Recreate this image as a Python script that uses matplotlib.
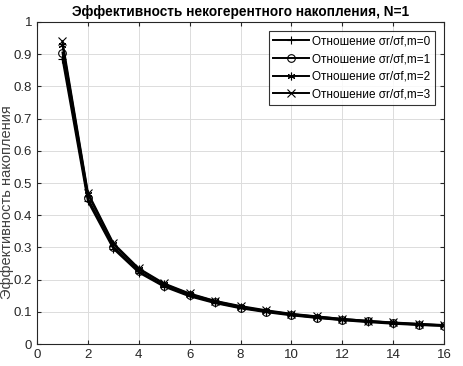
import matplotlib
matplotlib.use('Agg')
import matplotlib.pyplot as plt

plt.rcParams['font.family'] = ['Liberation Sans', 'DejaVu Sans']

# x = число импульсов, значения эффективности для m=0..3
x = list(range(1, 17))
m0 = [0.885, 0.443, 0.296, 0.222, 0.178, 0.148, 0.127, 0.111, 0.099, 0.089, 0.081, 0.074, 0.068, 0.063, 0.059, 0.056]
m1 = [0.905, 0.452, 0.302, 0.226, 0.181, 0.151, 0.129, 0.113, 0.101, 0.091, 0.082, 0.075, 0.070, 0.065, 0.060, 0.057]
m2 = [0.930, 0.465, 0.310, 0.232, 0.186, 0.155, 0.133, 0.116, 0.103, 0.093, 0.085, 0.078, 0.072, 0.066, 0.062, 0.058]
m3 = [0.940, 0.470, 0.313, 0.235, 0.188, 0.157, 0.134, 0.118, 0.105, 0.094, 0.086, 0.078, 0.072, 0.067, 0.063, 0.059]
labels = ['Отношение σr/σf,m=0', 'Отношение σr/σf,m=1',
          'Отношение σr/σf,m=2', 'Отношение σr/σf,m=3']
# MATLAB-like markers: plus, circle, asterisk, cross
markers = ['+', 'o', (6, 2, 0), 'x']

fig = plt.figure(figsize=(4.63, 3.66), dpi=100)
ax = fig.add_axes([0.080, 0.060, 0.879, 0.880])

for y, lab, mk in zip([m0, m1, m2, m3], labels, markers):
    ax.plot(x, y, color='black', linewidth=1.4, marker=mk, markersize=5.5,
            markerfacecolor='none', markeredgewidth=0.8, label=lab)

ax.set_xlim(0, 16)
ax.set_ylim(0, 1)
ax.set_xticks(range(0, 17, 2))
ax.set_yticks([i / 10 for i in range(11)])
ax.set_yticklabels(['0', '0.1', '0.2', '0.3', '0.4', '0.5', '0.6', '0.7', '0.8', '0.9', '1'])
ax.grid(True, color='#dcdcdc', linewidth=0.7)
ax.tick_params(direction='in', top=True, right=True, labelsize=9.5, colors='#262626', length=3)
for s in ax.spines.values():
    s.set_color('#262626')
    s.set_linewidth(0.8)

ax.set_title('Эффективность некогерентного накопления, N=1', fontsize=9.8,
             fontweight='bold', pad=4)
ax.set_ylabel('Эффективность накопления', fontsize=10.5, color='#404040',
              va='center')
ax.yaxis.set_label_coords(-0.074, 0.44)

leg = ax.legend(loc='upper right', fontsize=8.5, frameon=True, fancybox=False,
                edgecolor='black', borderpad=0.35, labelspacing=0.48,
                handlelength=3.0, handletextpad=0.3, borderaxespad=0.8)
leg.get_frame().set_linewidth(0.8)

fig.savefig('out.png', dpi=100)
